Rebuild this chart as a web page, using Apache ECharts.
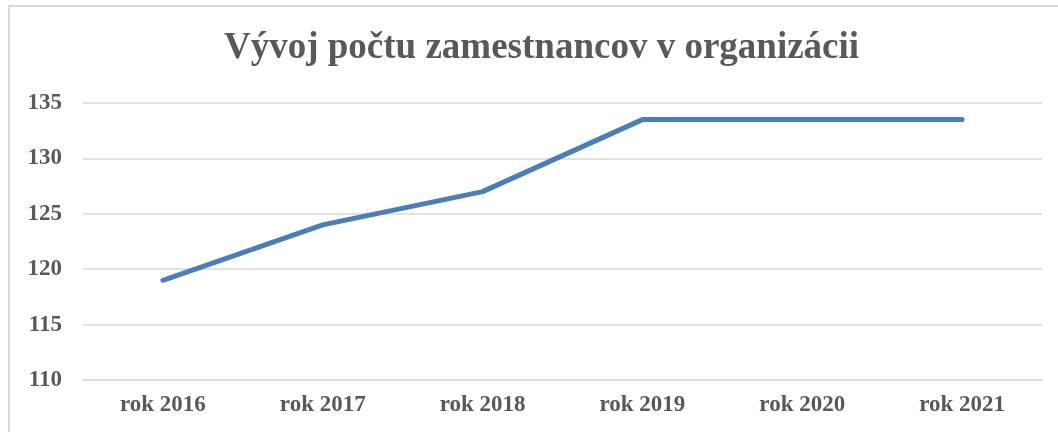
<!DOCTYPE html>
<html>
<head>
<meta charset="utf-8">
<script src="https://cdn.jsdelivr.net/npm/echarts@6/dist/echarts.min.js"></script>
<style>
  html, body { margin: 0; padding: 0; width: 1058px; height: 432px; overflow: hidden; background: #fff; }
  #frame { position: absolute; left: 8px; top: 5px; width: 1200px; height: 600px; border-left: 2px solid #d9d9d9; border-top: 2px solid #d9d9d9; }
  #chart { position: absolute; left: 0; top: 0; width: 1058px; height: 432px; }
</style>
</head>
<body>
<div id="frame"></div>
<div id="chart"></div>
<script>
const titleText = 'Vývoj počtu zamestnancov v organizácii'
const years = ['rok 2016', 'rok 2017', 'rok 2018', 'rok 2019', 'rok 2020', 'rok 2021']
const employees = [119, 124, 127, 133.5, 133.5, 133.5]

const textGray = '#595959'
const gridGray = '#d9d9d9'
const serif = '"Liberation Serif", "DejaVu Serif", serif'

const chart = echarts.init(document.getElementById('chart'))
chart.setOption({
  animation: false,
  title: {
    text: titleText,
    left: 219,
    top: 25,
    textStyle: { color: textGray, fontFamily: serif, fontWeight: 'bold', fontSize: 37 },
  },
  grid: { left: 83, right: 16, top: 103, bottom: 52 },
  xAxis: {
    type: 'category',
    data: years,
    boundaryGap: true,
    axisLine: { lineStyle: { color: gridGray, width: 1.5 } },
    axisTick: { show: false },
    axisLabel: { color: textGray, fontFamily: serif, fontWeight: 'bold', fontSize: 23, margin: 14 },
  },
  yAxis: {
    type: 'value',
    min: 110,
    max: 135,
    interval: 5,
    axisLine: { show: false },
    axisTick: { show: false },
    splitLine: { lineStyle: { color: gridGray, width: 1.5 } },
    axisLabel: { color: textGray, fontFamily: serif, fontWeight: 'bold', fontSize: 23, margin: 21 },
  },
  series: [{
    type: 'line',
    data: employees,
    symbol: 'none',
    lineStyle: { color: '#4a7ebb', width: 5, cap: 'round', join: 'round' },
  }],
})
</script>
</body>
</html>
